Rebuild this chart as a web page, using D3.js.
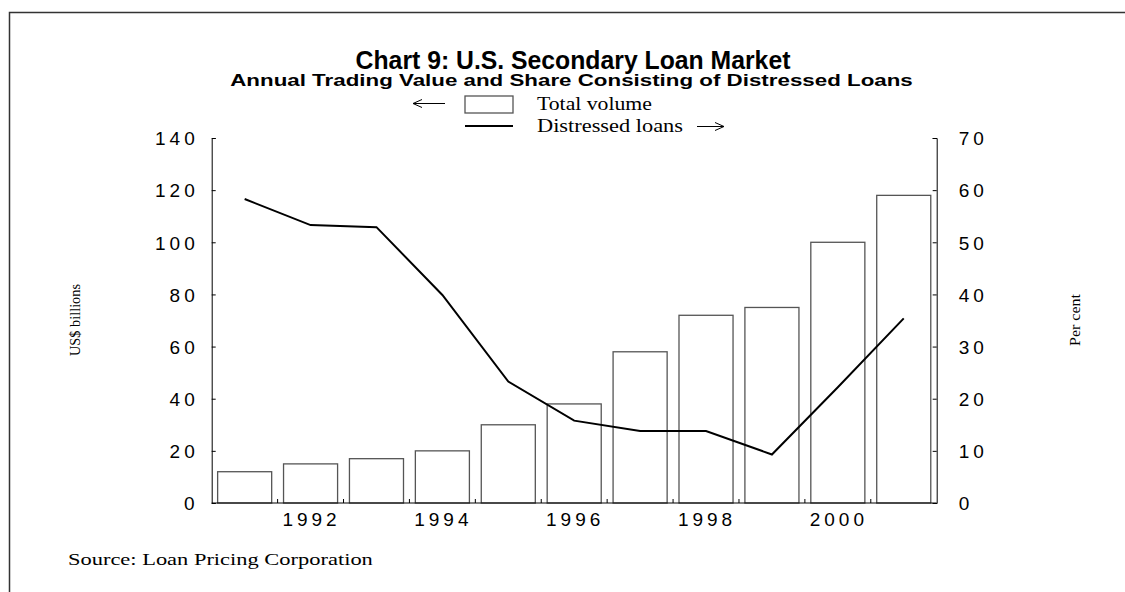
<!DOCTYPE html>
<html><head><meta charset="utf-8">
<script src="https://cdn.jsdelivr.net/npm/d3@7"></script>
<style>body{margin:0;background:#fff}</style>
</head><body>
<script>
const years = [1991,1992,1993,1994,1995,1996,1997,1998,1999,2000,2001];
const totalVolume = [12,15,17,20,30,38,58,72,75,100,118];
const distressedShare = [58.3,53.3,52.9,39.9,23.3,15.8,13.8,13.8,9.3,22.2,35.4];
const leftTicks = [0,20,40,60,80,100,120,140];
const rightTicks = [0,10,20,30,40,50,60,70];
const xTickYears = [1992,1994,1996,1998,2000];

const W = 1125, H = 592;
const svg = d3.select("body").append("svg").attr("width", W).attr("height", H);

// frame
svg.append("path").attr("d", `M9.5,${H} L9.5,12.5 L${W},12.5`).attr("fill","none").attr("stroke","#333").attr("stroke-width",1.5);

const L = 211.7, R = 936.7, T = 138, B = 503;
const x = d3.scaleBand().domain(years).range([L, R]).paddingInner(0.18).paddingOuter(0.09);
const yL = d3.scaleLinear().domain([0,140]).range([B, T]);
const yR = d3.scaleLinear().domain([0,70]).range([B, T]);

// bars
svg.append("g").selectAll("rect").data(years).join("rect")
  .attr("x", d => x(d)).attr("width", x.bandwidth())
  .attr("y", (d,i) => yL(totalVolume[i])).attr("height", (d,i) => B - yL(totalVolume[i]))
  .attr("fill","#fff").attr("stroke","#555").attr("stroke-width",1.3);

// line
const line = d3.line().x((d,i) => x(years[i]) + x.bandwidth()/2).y(d => yR(d));
svg.append("path").datum(distressedShare).attr("d", line)
  .attr("fill","none").attr("stroke","#000").attr("stroke-width",2);

const tickFont = "'Liberation Sans', Arial, sans-serif";
// left axis
const la = svg.append("g").attr("transform", `translate(${L},0)`)
  .call(d3.axisLeft(yL).tickValues(leftTicks).tickSize(-4).tickPadding(13));
// right axis
const ra = svg.append("g").attr("transform", `translate(${R},0)`)
  .call(d3.axisRight(yR).tickValues(rightTicks).tickSize(-4).tickPadding(22));
// bottom axis: ticks at band boundaries
const step = x.step();
const bounds = years.slice(1).map((d) => x(d) - (step - x.bandwidth())/2);
const ba = svg.append("g").attr("transform", `translate(0,${B})`);
ba.append("line").attr("x1", L).attr("x2", R).attr("stroke","#000");
ba.selectAll("line.t").data(bounds).join("line").attr("class","t")
  .attr("x1", d => d).attr("x2", d => d).attr("y1", 0).attr("y2", -4).attr("stroke","#000");
ba.selectAll("text").data(xTickYears).join("text")
  .attr("x", d => x(d) + x.bandwidth()/2 + 1).attr("y", 23)
  .attr("text-anchor","middle").text(d => d);

[la, ra].forEach(g => { g.select(".domain").attr("stroke","#000"); g.selectAll(".tick line").attr("stroke","#000"); });
svg.selectAll(".tick text").attr("dy", "0.36em");
svg.selectAll("g text").attr("font-family", tickFont).attr("font-size", 19).attr("letter-spacing", "4px").attr("fill","#000");

// helper: text stretched horizontally to a target width
function fitText(str, ax, ay, width, anchor, family, size, weight) {
  const t = svg.append("text").attr("x", 0).attr("y", 0).attr("text-anchor", anchor)
    .attr("font-family", family).attr("font-size", size).attr("font-weight", weight || "normal").text(str);
  const w = t.node().getComputedTextLength();
  t.attr("transform", `translate(${ax},${ay}) scale(${width / w},1)`);
  return t;
}

const sans = "'Liberation Sans', Arial, sans-serif";
const serif = "'Liberation Serif', 'Times New Roman', serif";

// titles
fitText("Chart 9: U.S. Secondary Loan Market", 573, 68.5, 435, "middle", sans, 25, "bold");
fitText("Annual Trading Value and Share Consisting of Distressed Loans", 571.5, 85.5, 683, "middle", sans, 16, "bold");

// legend
svg.append("rect").attr("x",465).attr("y",96).attr("width",48).attr("height",17).attr("fill","#fff").attr("stroke","#555").attr("stroke-width",1.3);
svg.append("line").attr("x1",465).attr("x2",513).attr("y1",126).attr("y2",126).attr("stroke","#000").attr("stroke-width",2);
fitText("Total volume", 537, 109.5, 115, "start", serif, 18);
fitText("Distressed loans", 537, 131.5, 146, "start", serif, 18);
// arrows
svg.append("path").attr("d","M445,103.5 L413,103.5 M422,99.5 L413,103.5 L422,107.5").attr("fill","none").attr("stroke","#000").attr("stroke-width",1);
svg.append("path").attr("d","M697,126.5 L724,126.5 M715,122.5 L724,126.5 L715,130.5").attr("fill","none").attr("stroke","#000").attr("stroke-width",1);

// axis titles
svg.append("text").attr("transform","translate(80,320) rotate(-90)").attr("text-anchor","middle")
  .attr("font-family",serif).attr("font-size",14).attr("textLength",72).attr("lengthAdjust","spacingAndGlyphs").text("US$ billions");
svg.append("text").attr("transform","translate(1080,320) rotate(-90)").attr("text-anchor","middle")
  .attr("font-family",serif).attr("font-size",14).attr("textLength",52).attr("lengthAdjust","spacingAndGlyphs").text("Per cent");

// source
fitText("Source: Loan Pricing Corporation", 68, 565, 305, "start", serif, 17);
</script>
</body></html>
